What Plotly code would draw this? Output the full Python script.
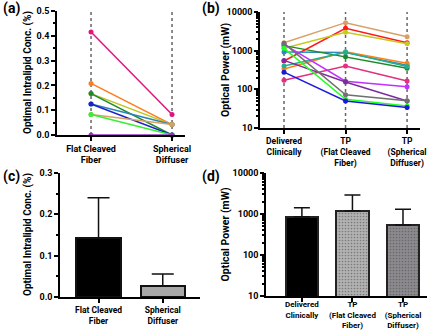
import plotly.graph_objects as go

# ---------------- data ----------------
# Panel (a): optimal intralipid conc. per case
a_categories = ["Flat Cleaved<br>Fiber", "Spherical<br>Diffuser"]
a_series = {
    "s1": [0.415, 0.083],
    "s2": [0.208, 0.042],
    "s3": [0.167, 0.042],
    "s4": [0.167, 0.0],
    "s5": [0.125, 0.042],
    "s6": [0.125, 0.0],
    "s7": [0.083, 0.042],
    "s8": [0.083, 0.0],
    "s9": [0.0, 0.0],
}
a_colors = ["#e0157f", "#ff7a1a", "#bec41c", "#1f8a2a", "#2a86b8",
            "#1f22c8", "#d9a066", "#33f033", "#9b30c8"]

# Panel (b): optical power per case
b_categories = ["Delivered<br>Clinically", "TP<br>(Flat Cleaved<br>Fiber)", "TP<br>(Spherical<br>Diffuser)"]
b_series = {
    "tan":     [1600, 5300, 2300],
    "red":     [540, 3800, 1600],
    "yellow":  [1150, 3000, 1520],
    "teal":    [920, 900, 420],
    "orange":  [335, 940, 470],
    "dkgreen": [1350, 700, 350],
    "seagrn":  [400, 910, 390],
    "pink":    [172, 400, 165],
    "violet":  [1450, 162, 117],
    "purple":  [560, 155, 50],
    "gray":    [1550, 72, 51],
    "lime":    [1150, 55, 37],
    "blue":    [278, 50, 34],
}
b_colors = ["#d9a066", "#ff1a1a", "#c8c81e", "#2a8cbf", "#ff7f1a", "#1f8a2a",
            "#22b08e", "#e0307f", "#c030ff", "#7f2aa0", "#707070", "#22ff22", "#1a1add"]

# Panel (c): mean intralipid conc. with upper SD
c_categories = ["Flat Cleaved<br>Fiber", "Spherical<br>Diffuser"]
c_means = [0.1435, 0.0266]
c_upper = [0.240, 0.0557]

# Panel (d): mean optical power with upper SD
d_categories = ["Delivered<br>Clinically", "TP<br>(Flat Cleaved<br>Fiber)", "TP<br>(Spherical<br>Diffuser)"]
d_means = [860, 1200, 540]
d_upper = [1425, 2900, 1300]

# ---------------- figure ----------------
FONT = "Roboto"
fig = go.Figure()

for (name, vals), col in zip(a_series.items(), a_colors):
    fig.add_trace(go.Scatter(x=list(range(len(a_categories))), y=vals, mode="lines+markers",
                             line=dict(color=col, width=1.5), marker=dict(color=col, size=5),
                             xaxis="x", yaxis="y", showlegend=False, cliponaxis=False))

for (name, vals), col in zip(b_series.items(), b_colors):
    fig.add_trace(go.Scatter(x=list(range(len(b_categories))), y=vals, mode="lines+markers",
                             line=dict(color=col, width=1.5), marker=dict(color=col, size=5),
                             xaxis="x2", yaxis="y2", showlegend=False))

fig.add_trace(go.Bar(x=list(range(len(c_categories))), y=c_means, width=0.69,
                     marker=dict(color=["#000000", "#a8a8a8"], line=dict(color="#111", width=2)),
                     error_y=dict(type="data", symmetric=False,
                                  array=[u - m for u, m in zip(c_upper, c_means)],
                                  arrayminus=[0, 0], color="#111", thickness=1.5, width=11),
                     xaxis="x3", yaxis="y3", showlegend=False))

fig.add_trace(go.Bar(x=list(range(len(d_categories))), y=d_means, width=0.64,
                     marker=dict(color=["#000000", "#b2b2b2", "#8c8a8e"],
                                 line=dict(color="#222", width=2),
                                 pattern=dict(shape=["", ".", "."], fillmode="overlay",
                                              fgcolor=["#000000", "#9a9a9a", "#6f8f7f"],
                                              size=3, solidity=0.25)),
                     error_y=dict(type="data", symmetric=False,
                                  array=[u - m for u, m in zip(d_upper, d_means)],
                                  arrayminus=[0, 0, 0], color="#111", thickness=1.5, width=8),
                     xaxis="x4", yaxis="y4", showlegend=False))

ytickfont = dict(family=FONT, size=9, color="black", weight="bold")
axis_common = dict(showline=True, linecolor="black", linewidth=1.5, showgrid=False,
                   zeroline=False, ticks="outside", ticklen=4, tickwidth=1.5,
                   tickcolor="black", automargin=False)
def xfont(s): return dict(family=FONT, size=s, color="black", weight="bold")
ycommon = dict(tickfont=ytickfont, **axis_common)

W, H = 440, 330
def fx(a, b): return [a / W, b / W]
def fy(top, bot): return [1 - bot / H, 1 - top / H]

log_minor = dict(ticks="outside", ticklen=2, tickcolor="black",
                 tickvals=[v * m for v in (10, 100, 1000) for m in range(2, 10)])
lin_minor = dict(ticks="outside", ticklen=2, tickcolor="black", dtick=0.05)

fig.update_layout(
    template="none",
    width=W, height=H, margin=dict(l=0, r=0, t=0, b=0, autoexpand=False),
    plot_bgcolor="white", paper_bgcolor="white",
    font=dict(family=FONT, color="black"),
    bargap=0,
    xaxis=dict(domain=fx(57, 185), range=[-0.42, 1.16], tickvals=[0, 1], ticktext=a_categories,
               anchor="y", tickangle=0, tickfont=xfont(9), **axis_common),
    yaxis=dict(domain=fy(11, 135), range=[0, 0.5], dtick=0.1, tickformat=".1f", anchor="x",
               minor=lin_minor, **ycommon),
    xaxis2=dict(domain=fx(260, 420), range=[-0.39, 2.21], tickvals=[0, 1, 2], ticktext=b_categories,
                anchor="y2", tickangle=0, tickfont=xfont(8.5), **axis_common),
    yaxis2=dict(domain=fy(12, 128), type="log", range=[1, 4], tickvals=[10, 100, 1000, 10000],
                ticktext=["10", "100", "1000", "10000"], anchor="x2", minor=log_minor, **ycommon),
    xaxis3=dict(domain=fx(60, 200), range=[-0.6, 1.58], tickvals=[0, 1], ticktext=c_categories,
                anchor="y3", tickangle=0, tickfont=xfont(8.5), **axis_common),
    yaxis3=dict(domain=fy(173, 297), range=[0, 0.3], dtick=0.1, tickformat=".1f", anchor="x3",
                minor=lin_minor, **ycommon),
    xaxis4=dict(domain=fx(266, 427), range=[-0.71, 2.475], tickvals=[0, 1, 2], ticktext=d_categories,
                anchor="y4", tickangle=0, tickfont=xfont(8), ticklabelstandoff=-4, **axis_common),
    yaxis4=dict(domain=fy(173, 296), type="log", range=[1, 4], tickvals=[10, 100, 1000, 10000],
                ticktext=["10", "100", "1000", "10000"], anchor="x4", minor=log_minor, **ycommon),
)

# dotted category guide lines
for i in range(len(a_categories)):
    fig.add_shape(type="line", xref="x", yref="y domain", x0=i, x1=i, y0=0, y1=1,
                  line=dict(color="#666", width=1.5, dash="dot"), layer="below")
for i in range(len(b_categories)):
    fig.add_shape(type="line", xref="x2", yref="y2 domain", x0=i, x1=i, y0=0, y1=1,
                  line=dict(color="#666", width=1.5, dash="dot"), layer="below")

for txt, x, ydom, size in [("Optimal Intralipid Conc. (%)", 28, fy(11, 135), 10),
                           ("Optical Power (mW)", 225, fy(12, 128), 10.5),
                           ("Optimal Intralipid Conc. (%)", 28, fy(173, 297), 10),
                           ("Optical Power (mW)", 225, fy(173, 296), 10.5)]:
    fig.add_annotation(text=txt, x=x / W, y=(ydom[0] + ydom[1]) / 2, xref="paper", yref="paper",
                       textangle=-90, showarrow=False,
                       font=dict(family=FONT, size=size, color="black", weight="bold"),
                       xanchor="center", yanchor="middle")

labelfont = dict(family=FONT, size=14, color="black", weight="bold")
for txt, x, y in [("(a)", 11, 9), ("(b)", 211, 9), ("(c)", 11, 176), ("(d)", 211, 176)]:
    fig.add_annotation(text=txt, x=x / W, y=1 - y / H, xref="paper", yref="paper",
                       showarrow=False, font=labelfont, xanchor="center", yanchor="middle")

# the page body has a default 8px margin; remove it so the figure sits at the window's corner
fig.write_html("out.html", config={"displayModeBar": False},
               post_script="document.body.style.margin='0px';")
